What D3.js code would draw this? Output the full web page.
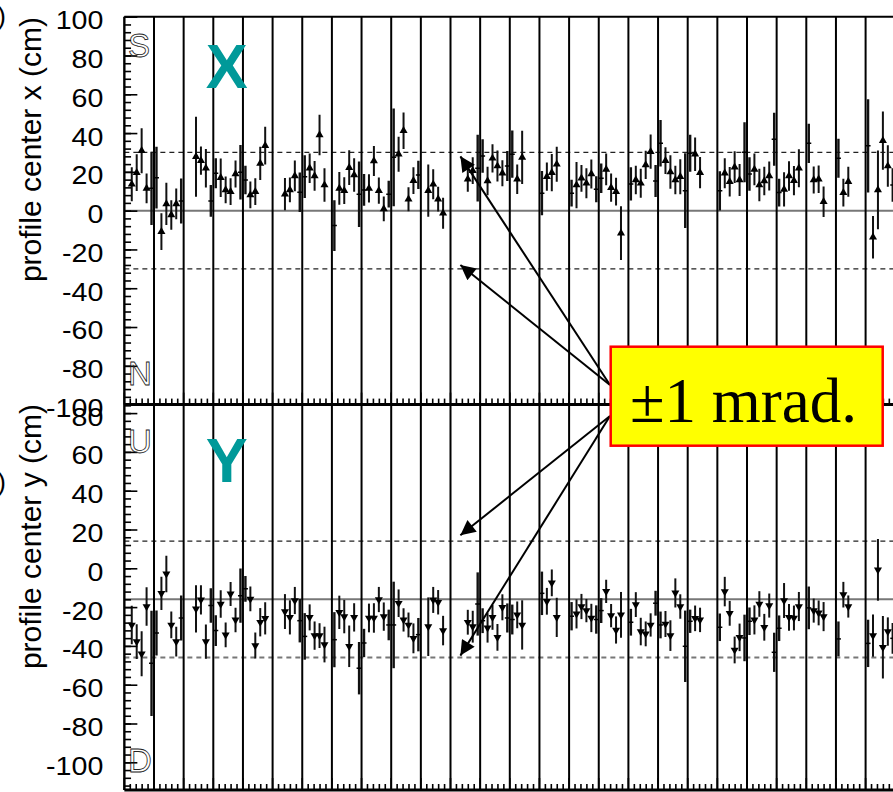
<!DOCTYPE html>
<html>
<head>
<meta charset="utf-8">
<script src="https://cdn.jsdelivr.net/npm/d3@7"></script>
<style>
  body { margin: 0; background: #fff; }
  svg { display: block; }
</style>
</head>
<body>
<div id="chart"></div>
<script>
// time bins (6 bins per run block), shared by both panels
var bins = [1,2,3,4,5, 6,7,8,9,10,11, 14,15,16,17, 18,19,20,21,22,23, 24,25,26,27,28,
  32,33,34,35, 36,37,38,39,40, 42,43,44,45,46,47, 48,49,50,51,52,53, 54,55,56,57,58,59,
  61,62,63,64, 69,70,71, 72,73,74,75,76,77, 78,79,80, 84,85,86,87, 90,91,92,93,94,95,
  96,97,98,99,100, 102,103,104,105,106,107, 108,109,110,111,112,113, 114,115,116,
  120,121,122,123,124,125, 126,127,128,129,130,131, 132,133,134,135,136, 138,139,140,141,
  144,145,146, 150,151,152,153,154,155];

// profile center x (cm) and its error
var xCenter = [13.6,19.6,30.9,11.5,11.5, 17.0,-10.8,3.5,-2.2,3.5,5.0, 27.8,25.8,21.9,5.0,
  19.3,17.0,10.7,9.8,18.9,19.8, 15.8,8.1,9.8,24.4,33.5, 8.5,10.7,17.9,9.5, 17.5,21.9,17.9,39.0,13.2,
  -7.7,11.5,10.3,22.2,18.4,8.5, 10.7,11.5,25.6,10.3,0.9,8.5, 27.5,29.1,41.2,5.9,15.5,18.4,
  10.3,13.6,5.9,-1.3, 16.2,20.6,21.9, 28.2,15.3,27.0,23.0,19.3,23.0, 29.1,16.2,27.5,
  9.0,17.5,19.6,23.9, 9.0,13.2,16.7,14.1,18.9,11.0, 16.7,21.3,11.9,9.8,-11.6,
  13.8,15.8,14.1,23.6,30.4,15.3, 34.7,25.8,19.9,15.8,17.5,10.3, 29.6,29.1,19.6,
  10.2,19.3,14.9,22.4,15.8,30.1, 18.9,21.3,13.2,15.3,17.9,36.8, 9.3,11.0,17.9,15.5,21.9,
  34.7,15.8,16.2,4.6, 27.0,9.3,14.9, 33.4,-13.7,10.7,36.1,23.0,13.2];
var xErr = [8.8,9.5,11.6,7.7,18.9, 15.9,9.5,10.9,7.6,7.9,11.6, 20.6,7.3,9.9,8.2,
  7.7,9.9,6.9,6.9,7.0,14.0, 7.3,6.9,6.9,8.6,9.7, 8.3,6.4,7.9,10.2, 11.0,7.6,7.7,10.5,8.6,
  13.1,8.4,6.9,9.0,8.6,16.9, 8.2,7.3,7.7,6.8,6.4,6.9, 25.2,9.0,9.4,6.2,6.9,7.3,
  13.5,7.7,6.4,8.0, 6.4,6.9,17.2, 8.6,7.3,7.3,8.0,6.7,7.7, 12.2,7.6,13.7,
  11.4,7.3,9.6,9.0, 6.9,11.9,6.9,7.7,7.5,6.7, 7.6,8.2,7.3,7.1,13.9,
  8.6,7.3,7.5,7.3,8.8,8.3, 12.0,6.9,8.6,7.3,9.0,19.3, 9.5,8.6,8.1,
  10.1,7.7,7.6,8.2,8.2,15.5, 8.6,8.2,8.4,7.3,7.5,13.7, 7.2,8.8,7.6,7.5,9.8,
  10.1,6.9,7.1,7.9, 10.1,7.1,7.7, 24.0,11.0,20.3,15.0,10.7,8.6];

// profile center y (cm) and its error
var yCenter = [-29.2,-37.8,-44.1,-19.7,-49.0, -33.3,-12.9,-2.9,-29.2,-37.8,-25.6, -20.9,-16.3,-37.8,-19.2,
  -32.1,-18.4,-34.3,-13.2,-26.6,-14.1, -10.6,-15.8,-39.8,-27.8,-25.8, -22.3,-25.3,-16.6,-27.0,
  -35.1,-25.3,-34.7,-34.7,-39.3, -36.8,-22.7,-24.9,-40.2,-25.3,-51.5, -38.5,-25.6,-25.6,-16.1,-24.9,-29.2,
  -29.2,-18.0,-26.6,-29.2,-36.1,-34.2, -30.1,-16.3,-17.5,-32.1, -27.8,-30.1,-18.4,
  -27.0,-30.7,-25.3,-35.6,-20.1,-25.6, -26.4,-24.0,-29.2, -12.9,-17.0,-7.5,-25.3,
  -24.7,-23.5,-19.7,-21.8,-25.6,-26.4, -21.8,-11.9,-24.4,-31.8,-24.0,
  -27.8,-18.7,-32.6,-33.8,-29.2,-18.0, -29.2,-28.7,-34.7,-12.7,-19.7,-40.2, -27.3,-25.8,-26.6,
  -30.4,-12.0,-23.2,-42.1,-35.6,-35.9, -27.3,-26.6,-18.4,-30.4,-19.2,-43.3, -30.9,-16.6,-25.3,-25.6,-19.7,
  -20.4,-21.8,-23.0,-24.9, -36.4,-13.6,-19.7, -38.7,-34.7,-0.8,-40.7,-32.6,-36.1];
var yErr = [9.9,9.0,11.6,9.9,27.1, 11.6,8.6,9.4,6.9,7.7,11.6, 12.2,7.5,8.8,8.9,
  7.9,7.1,6.4,6.2,6.3,14.0, 6.6,6.4,6.7,7.3,8.3, 9.0,8.8,7.0,11.2, 12.0,6.7,7.3,6.4,9.2,
  14.2,8.6,8.6,10.7,7.3,13.5, 7.3,7.4,7.6,6.5,7.3,7.9, 22.3,7.1,6.0,6.4,7.7,8.6,
  15.1,6.7,6.3,7.6, 6.4,8.2,16.3, 6.4,7.6,6.4,6.9,6.7,7.5, 7.7,6.9,12.7,
  11.2,6.9,6.9,10.1, 7.3,7.5,6.5,6.0,7.3,7.3, 6.4,6.0,6.0,7.0,11.8,
  6.9,6.4,7.1,6.4,6.0,6.4, 6.9,6.7,7.9,7.5,6.3,18.4, 6.0,6.6,6.3,
  7.1,7.6,6.4,6.9,7.1,12.0, 7.1,7.5,6.6,6.9,6.2,10.1, 6.6,9.0,6.9,6.4,7.5,
  11.0,6.2,6.4,7.5, 9.0,6.6,5.7, 12.2,10.9,15.9,16.1,7.3,7.9];

// reference lines: beam center and +-1 mrad
var xRef = 0, yRef = -16, band = 30;
var binsPerBlock = 6, nBins = 156;

var width = 893, height = 792;
var plotLeft = 124.35, plotRight = 895.25;
var plotTop = 16.7, plotMid = 404.6, plotBottom = 790;

var svg = d3.select('#chart').append('svg')
    .attr('width', width)
    .attr('height', height)
    .style('font-family', '"Liberation Sans", Arial, sans-serif');

var x = d3.scaleLinear().domain([0, nBins]).range([plotLeft, plotRight]);
var yTop = d3.scaleLinear().domain([-100, 100]).range([plotMid, plotTop]);
var yBot = d3.scaleLinear().domain([-115, 85]).range([791.4, 403.4]);

var defs = svg.append('defs');
defs.append('marker')
    .attr('id', 'arrow-end')
    .attr('viewBox', '0 -5 10 10')
    .attr('refX', 10)
    .attr('refY', 0)
    .attr('markerUnits', 'userSpaceOnUse')
    .attr('markerWidth', 19)
    .attr('markerHeight', 15)
    .attr('orient', 'auto')
    .append('path')
    .attr('d', 'M0,-5L10,0L0,5Z')
    .attr('fill', '#000');

defs.append('clipPath').attr('id', 'clip-top').append('rect')
    .attr('x', plotLeft).attr('y', plotTop)
    .attr('width', width - plotLeft).attr('height', plotMid - plotTop);
defs.append('clipPath').attr('id', 'clip-bot').append('rect')
    .attr('x', plotLeft).attr('y', plotMid)
    .attr('width', width - plotLeft).attr('height', plotBottom - plotMid);

function isEdge(b) {
    return b % binsPerBlock === 0 || b % binsPerBlock === binsPerBlock - 1;
}

function drawPanel(y, center, err, ref, clipId, down, lowerDashGray) {
    var g = svg.append('g').attr('clip-path', 'url(#' + clipId + ')');

    // reference lines
    g.append('line')
        .attr('x1', plotLeft).attr('x2', width)
        .attr('y1', y(ref)).attr('y2', y(ref))
        .attr('stroke', '#777').attr('stroke-width', 2);
    [ref + band, ref - band].forEach(function (v, i) {
        var gray = lowerDashGray && i === 1;
        g.append('line')
            .attr('x1', plotLeft).attr('x2', width)
            .attr('y1', y(v)).attr('y2', y(v))
            .attr('stroke', gray ? '#777' : '#222')
            .attr('stroke-width', gray ? 2 : 1.2)
            .attr('stroke-dasharray', '5,4');
    });

    var pts = bins.map(function (b, i) {
        return {b: b, v: center[i], e: err[i], edge: isEdge(b)};
    });

    g.append('g').selectAll('line')
        .data(pts)
        .enter()
        .append('line')
        .attr('x1', function (d) { return x(d.b + 0.5); })
        .attr('x2', function (d) { return x(d.b + 0.5); })
        .attr('y1', function (d) { return y(d.v - d.e); })
        .attr('y2', function (d) { return y(d.v + d.e); })
        .attr('stroke', '#111')
        .attr('stroke-width', function (d) { return d.edge ? 2.4 : 2; });

    g.append('g').selectAll('line')
        .data(pts.filter(function (d) { return d.edge; }))
        .enter()
        .append('line')
        .attr('x1', function (d) { return x(d.b + 0.5) - 2.5; })
        .attr('x2', function (d) { return x(d.b + 0.5) + 2.5; })
        .attr('y1', function (d) { return y(d.v); })
        .attr('y2', function (d) { return y(d.v); })
        .attr('stroke', '#000')
        .attr('stroke-width', 1.5);

    g.append('g').selectAll('path')
        .data(pts.filter(function (d) { return !d.edge; }))
        .enter()
        .append('path')
        .attr('d', d3.symbol().type(d3.symbolTriangle).size(28))
        .attr('fill', '#000')
        .attr('transform', function (d) {
            return 'translate(' + x(d.b + 0.5) + ',' + y(d.v) + ')' + (down ? ' rotate(180)' : '');
        });
}

drawPanel(yTop, xCenter, xErr, xRef, 'clip-top', false, false);
drawPanel(yBot, yCenter, yErr, yRef, 'clip-bot', true, true);

// run block boundaries
svg.append('g').selectAll('line')
    .data(d3.range(binsPerBlock, nBins, binsPerBlock))
    .enter()
    .append('line')
    .attr('x1', function (d) { return x(d); })
    .attr('x2', function (d) { return x(d); })
    .attr('y1', plotTop)
    .attr('y2', plotBottom)
    .attr('stroke', '#000')
    .attr('stroke-width', 2);

// x axis ticks (pointing up) on both panels
[plotMid, plotBottom].forEach(function (yy) {
    svg.append('g').selectAll('line')
        .data(d3.range(0, nBins + 0.01, binsPerBlock / 5))
        .enter()
        .append('line')
        .attr('x1', function (d) { return x(d); })
        .attr('x2', function (d) { return x(d); })
        .attr('y1', yy)
        .attr('y2', function (d) {
            return yy - (Math.abs(d / binsPerBlock - Math.round(d / binsPerBlock)) < 1e-6 ? 12 : 6);
        })
        .attr('stroke', '#000')
        .attr('stroke-width', 1.6);
});

// y axes
function yAxis(y, majors, minors) {
    var g = svg.append('g').attr('transform', 'translate(' + plotLeft + ',0)');
    g.call(d3.axisLeft(y).tickValues(minors).tickSize(-6.7).tickFormat(''))
        .call(function (s) { s.select('.domain').remove(); });
    var g2 = svg.append('g').attr('transform', 'translate(' + plotLeft + ',0)');
    g2.call(d3.axisLeft(y).tickValues(majors).tickSize(-13).tickPadding(21)
            .tickFormat(function (d) { return String(d); }))
        .call(function (s) { s.select('.domain').remove(); });
    g.selectAll('line').attr('stroke', '#000').attr('stroke-width', 1.6);
    g2.selectAll('line').attr('stroke', '#000').attr('stroke-width', 1.6);
    g2.selectAll('text')
        .attr('dy', '0.46em')
        .attr('fill', '#000')
        .style('font-size', '26px')
        .style('font-family', '"Liberation Sans", Arial, sans-serif')
        .each(function () {
            var w = this.getComputedTextLength();
            d3.select(this).attr('textLength', w * 1.1).attr('lengthAdjust', 'spacingAndGlyphs');
        });
}
yAxis(yTop, d3.range(-100, 101, 20), d3.range(-100, 101, 4));
yAxis(yBot, d3.range(-100, 81, 20), d3.range(-112, 85, 4));

// frame
var frame = svg.append('g').attr('stroke', '#000').attr('fill', 'none');
frame.append('line').attr('x1', plotLeft).attr('x2', width).attr('y1', plotTop).attr('y2', plotTop).attr('stroke-width', 2);
frame.append('line').attr('x1', plotLeft).attr('x2', width).attr('y1', plotMid).attr('y2', plotMid).attr('stroke-width', 3);
frame.append('line').attr('x1', plotLeft).attr('x2', width).attr('y1', plotBottom).attr('y2', plotBottom).attr('stroke-width', 3);
frame.append('line').attr('x1', plotLeft).attr('x2', plotLeft).attr('y1', plotTop).attr('y2', plotBottom).attr('stroke-width', 2.4);

// axis titles
svg.append('text')
    .attr('transform', 'translate(41,17) rotate(-90)')
    .attr('text-anchor', 'end')
    .style('font-size', '30px')
    .text('profile center x (cm)');
svg.append('text')
    .attr('transform', 'translate(41,404) rotate(-90)')
    .attr('text-anchor', 'end')
    .style('font-size', '30px')
    .text('profile center y (cm)');

// clipped panel tags at the left edge
[24.5, 491].forEach(function (yy) {
    svg.append('text')
        .attr('x', 6).attr('y', yy)
        .attr('text-anchor', 'end')
        .style('font-size', '26px')
        .text(')');
});

// direction letters
var dirs = [
    {t: 'S', y: 56.7}, {t: 'N', y: 385}, {t: 'U', y: 452.7}, {t: 'D', y: 771.7}
];
svg.append('g').selectAll('text')
    .data(dirs)
    .enter()
    .append('text')
    .attr('x', 128)
    .attr('y', function (d) { return d.y; })
    .attr('fill', 'none')
    .attr('stroke', '#222')
    .attr('stroke-width', 0.8)
    .style('font-size', '33px')
    .text(function (d) { return d.t; });

// big panel letters
[{t: 'X', y: 88.3}, {t: 'Y', y: 481.7}].forEach(function (d) {
    svg.append('text')
        .attr('x', 226.7).attr('y', d.y)
        .attr('text-anchor', 'middle')
        .attr('fill', '#009999')
        .style('font-size', '63px')
        .style('font-weight', 'bold')
        .text(d.t);
});

// annotation arrows to the +-1 mrad lines
var arrowBin = 68;
var arrows = [
    {y: yTop, v: xRef + band - 2, tx: 610, ty: 385},
    {y: yTop, v: xRef - band + 2, tx: 610, ty: 385},
    {y: yBot, v: yRef + band + 3, tx: 610, ty: 416},
    {y: yBot, v: yRef - band + 1, tx: 610, ty: 416}
];
svg.append('g').selectAll('line')
    .data(arrows)
    .enter()
    .append('line')
    .attr('x1', function (d) { return d.tx; })
    .attr('y1', function (d) { return d.ty; })
    .attr('x2', x(arrowBin))
    .attr('y2', function (d) { return d.y(d.v); })
    .attr('stroke', '#000')
    .attr('stroke-width', 2)
    .attr('marker-end', 'url(#arrow-end)');

var box = svg.append('g');
box.append('rect')
    .attr('x', 610.7).attr('y', 346.7)
    .attr('width', 272).attr('height', 99)
    .attr('fill', '#ffff00')
    .attr('stroke', '#ff0000')
    .attr('stroke-width', 2.5);
box.append('text')
    .attr('x', 630).attr('y', 421.5)
    .style('font-family', '"Liberation Serif", "Times New Roman", serif')
    .style('font-size', '63px')
    .text('\u00b11 mrad.');
</script>
</body>
</html>
